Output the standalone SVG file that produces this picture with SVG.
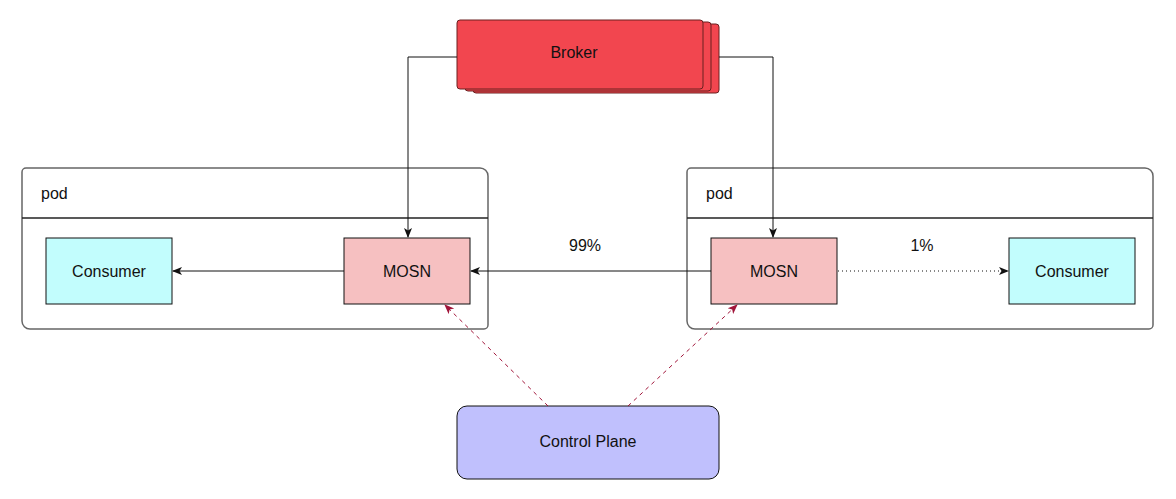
<svg xmlns="http://www.w3.org/2000/svg" width="1176" height="499" viewBox="0 0 1176 499">
<style>
text{font-family:"Liberation Sans",Arial,sans-serif;font-size:16px;fill:#111;}
.c{text-anchor:middle;dominant-baseline:central;}
.pod{fill:#fff;stroke:#666;stroke-width:1.5;}
.cons{fill:#c2fdfd;stroke:#111;stroke-width:1;}
.mosn{fill:#f6c0c1;stroke:#111;stroke-width:1;}
.broker{fill:#f2464f;stroke:#6a2020;stroke-width:1;}
.ln{fill:none;stroke:#111;stroke-width:1;}
.dash{fill:none;stroke:#a1153a;stroke-width:1;stroke-dasharray:4 4;}
</style>
<defs>
<marker id="ah" viewBox="0 0 10 10" refX="9" refY="5" markerWidth="10" markerHeight="10" orient="auto" markerUnits="userSpaceOnUse"><path d="M0,1 L10,5 L0,9 L2.5,5 Z" fill="#111"/></marker>
<marker id="ahr" viewBox="0 0 10 10" refX="9" refY="5" markerWidth="10" markerHeight="10" orient="auto" markerUnits="userSpaceOnUse"><path d="M0,1 L10,5 L0,9 L2.5,5 Z" fill="#a1153a"/></marker>
</defs>
<rect width="1176" height="499" fill="#fff"/>
<g id="pod-left">
<path class="pod" d="M22,172 a4,4 0 0 1 4,-4 H480 a8,8 0 0 1 8,8 V325 a4,4 0 0 1 -4,4 H30 a8,8 0 0 1 -8,-8 Z"/>
<line x1="22" y1="218" x2="488" y2="218" stroke="#222" stroke-width="1.5"/>
<text x="41" y="193" dominant-baseline="central">pod</text>
</g>
<g id="pod-right">
<path class="pod" d="M687,172 a4,4 0 0 1 4,-4 H1145 a8,8 0 0 1 8,8 V325 a4,4 0 0 1 -4,4 H695 a8,8 0 0 1 -8,-8 Z"/>
<line x1="687" y1="218" x2="1153" y2="218" stroke="#222" stroke-width="1.5"/>
<text x="706" y="193" dominant-baseline="central">pod</text>
</g>
<g id="broker">
<rect class="broker" x="473" y="24" width="246" height="69" rx="3"/>
<rect class="broker" x="465" y="22" width="246" height="69" rx="3"/>
<rect class="broker" x="457" y="20" width="246" height="69" rx="3"/>
<text class="c" x="574" y="52">Broker</text>
</g>
<g id="consumer-left">
<rect class="cons" x="46" y="238" width="126" height="66"/>
<text class="c" x="109" y="271">Consumer</text>
</g>
<g id="mosn-left">
<rect class="mosn" x="344" y="238" width="126" height="66"/>
<text class="c" x="407" y="271">MOSN</text>
</g>
<g id="mosn-right">
<rect class="mosn" x="711" y="238" width="126" height="66"/>
<text class="c" x="774" y="271">MOSN</text>
</g>
<g id="consumer-right">
<rect class="cons" x="1009" y="238" width="126" height="66"/>
<text class="c" x="1072" y="271">Consumer</text>
</g>
<g id="control-plane">
<rect x="457" y="406" width="262" height="73" rx="10" fill="#c0c0fd" stroke="#111" stroke-width="1"/>
<text class="c" x="588" y="441">Control Plane</text>
</g>
<g id="connectors">
<path class="ln" d="M457,57 H408 V237" marker-end="url(#ah)"/>
<path class="ln" d="M719,57 H773 V237" marker-end="url(#ah)"/>
<path class="ln" d="M344,271 H173" marker-end="url(#ah)"/>
<path class="ln" d="M711,271 H471" marker-end="url(#ah)"/>
<path class="ln" d="M838,271 H1008" stroke-dasharray="1 3" marker-end="url(#ah)"/>
<path class="dash" d="M548,406 L445,305" marker-end="url(#ahr)"/>
<path class="dash" d="M628,406 L737,305" marker-end="url(#ahr)"/>
<text class="c" x="585" y="245">99%</text>
<text class="c" x="922" y="245">1%</text>
</g>
</svg>
